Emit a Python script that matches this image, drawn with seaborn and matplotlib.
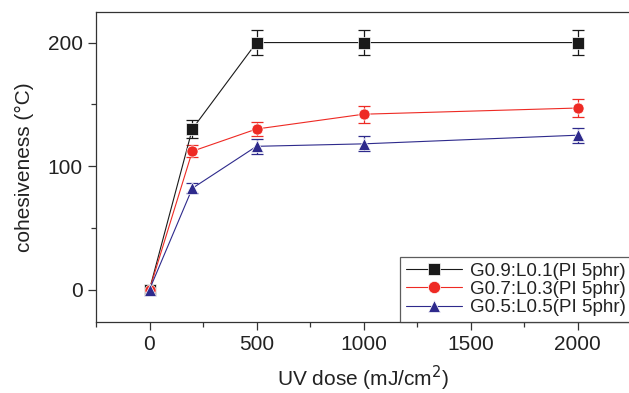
import matplotlib
matplotlib.use("Agg")
import matplotlib.pyplot as plt
from matplotlib.ticker import MultipleLocator
import seaborn as sns
import numpy as np
import pandas as pd


uv_dose = [0, 200, 500, 1000, 2000]
series_names = ["G0.9:L0.1(PI 5phr)", "G0.7:L0.3(PI 5phr)", "G0.5:L0.5(PI 5phr)"]
cohesion_g09 = [0, 130, 200, 200, 200]
cohesion_g07 = [0, 112, 130, 142, 147]
cohesion_g05 = [0, 82, 116, 118, 125]
err_g09 = [0, 7, 10, 10, 10]
err_g07 = [0, 5, 6, 7, 7]
err_g05 = [0, 4, 6, 6, 6]

colors = {series_names[0]: "#1a1a1a", series_names[1]: "#ee2a24", series_names[2]: "#2e2a8c"}
markers = {series_names[0]: "s", series_names[1]: "o", series_names[2]: "^"}

df = pd.DataFrame({
    "dose": uv_dose * 3,
    "value": cohesion_g09 + cohesion_g07 + cohesion_g05,
    "err": err_g09 + err_g07 + err_g05,
    "series": np.repeat(series_names, len(uv_dose)),
})

sns.set_theme(style="ticks")
plt.rcParams["font.family"] = ["Liberation Sans", "DejaVu Sans"]

fig = plt.figure(figsize=(6.29, 3.93), dpi=100)
ax = fig.add_axes([96 / 629, 1 - 321.7 / 393, 535 / 629, 310 / 393])

for name in series_names:
    sub = df[(df["series"] == name) & (df["err"] > 0)]
    ax.errorbar(sub["dose"], sub["value"], yerr=sub["err"], fmt="none",
                ecolor=colors[name], elinewidth=0.9, capsize=4.5, capthick=0.9, zorder=2)

sns.lineplot(data=df, x="dose", y="value", hue="series", style="series",
             palette=colors, markers=markers, dashes=False, markersize=8,
             linewidth=0.8, markeredgewidth=0.5, ax=ax, zorder=3)

ax.set_xlim(-250, 2250)
ax.set_ylim(-26, 225)
ax.xaxis.set_major_locator(MultipleLocator(500))
ax.xaxis.set_minor_locator(MultipleLocator(250))
ax.yaxis.set_major_locator(MultipleLocator(100))
ax.yaxis.set_minor_locator(MultipleLocator(50))
ax.tick_params(which="major", direction="out", length=6, width=0.9, labelsize=15, colors="#333333", labelcolor="#222222")
ax.tick_params(which="minor", direction="out", length=3.5, width=0.9, colors="#333333")
for sp in ax.spines.values():
    sp.set_visible(True)
    sp.set_linewidth(0.9)
    sp.set_color("#333333")

ax.set_xlabel("UV dose (mJ/cm$^{2}$)", fontsize=15, color="#222222", labelpad=7)
ax.set_ylabel("cohesiveness (°C)", fontsize=15, color="#222222", labelpad=10)

leg = ax.legend(loc="lower right", fontsize=13.5, frameon=True, fancybox=False,
                borderaxespad=0.0, labelspacing=0.05, handlelength=3.0, handletextpad=0.4,
                borderpad=0.3, edgecolor="#333333", markerscale=1.1)
leg.get_frame().set_linewidth(0.9)
for t in leg.get_texts():
    t.set_color("#222222")

fig.savefig("out.png", dpi=100)
